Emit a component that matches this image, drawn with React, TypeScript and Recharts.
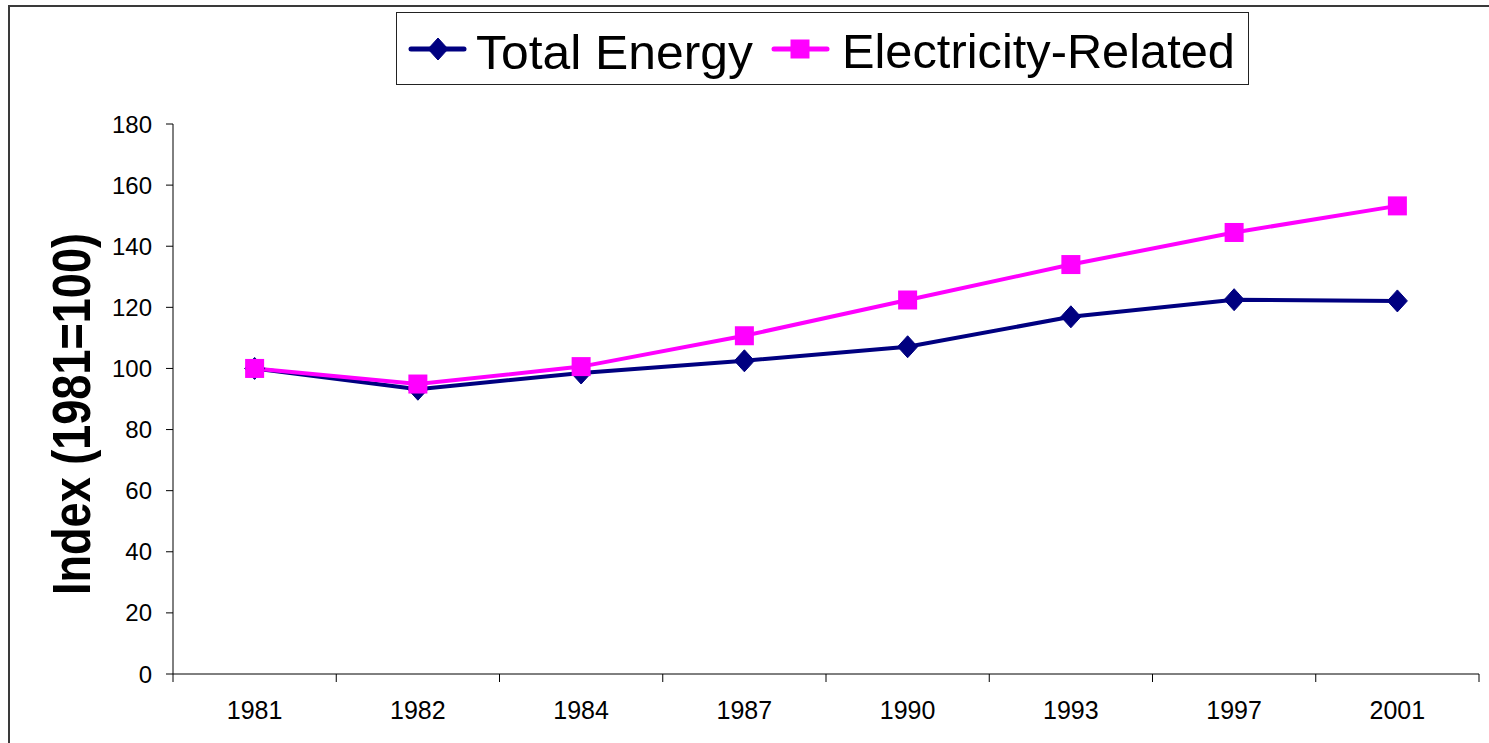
import React from "react";
import { LineChart, Line, XAxis, YAxis, Legend } from "recharts";

const years = ["1981", "1982", "1984", "1987", "1990", "1993", "1997", "2001"];
const totalEnergy = [100, 93.2, 98.5, 102.5, 107.1, 116.9, 122.5, 122.1];
const electricity = [100, 94.9, 100.6, 110.7, 122.4, 134, 144.5, 153.2];
const yTicks = [0, 20, 40, 60, 80, 100, 120, 140, 160, 180];

const NAVY = "#000080";
const PINK = "#FF00FF";
const FONT = "'Liberation Sans', Arial, sans-serif";

const data = years.map((year, i) => ({
  x: i + 0.5,
  year,
  total: totalEnergy[i],
  elec: electricity[i],
}));

// tick marks on category boundaries, labels in the middle of each category
const xTicks: number[] = [];
for (let i = 0; i <= years.length * 2; i++) xTicks.push(i / 2);

function XTick(props: any) {
  const { x, y, payload } = props;
  const v = payload.value;
  if (Number.isInteger(v)) {
    return <line x1={x} x2={x} y1={y - 8} y2={y} stroke="#000" strokeWidth={1} />;
  }
  return (
    <text x={x} y={y + 37} textAnchor="middle" fontSize={25} fontFamily={FONT} fill="#000">
      {years[Math.floor(v)]}
    </text>
  );
}

function Diamond({ cx, cy, w = 10, h = 11 }: { cx: number; cy: number; w?: number; h?: number }) {
  return (
    <polygon
      points={`${cx - w},${cy} ${cx},${cy - h} ${cx + w},${cy} ${cx},${cy + h}`}
      fill={NAVY}
      stroke={NAVY}
    />
  );
}

function Square({ cx, cy, s = 9.5 }: { cx: number; cy: number; s?: number }) {
  return <rect x={cx - s} y={cy - s} width={s * 2} height={s * 2} fill={PINK} stroke="none" />;
}

function LegendBox() {
  return (
    <div
      style={{
        width: 853,
        height: 73,
        border: "1.5px solid #222",
        boxSizing: "border-box",
        background: "#fff",
      }}
    >
      <svg width={850} height={70} style={{ display: "block", overflow: "visible" }}>
        <line x1={14} x2={67} y1={36} y2={36} stroke={NAVY} strokeWidth={5} strokeLinecap="round" />
        <Diamond cx={41} cy={36} />
        <text x={79} y={56} fontSize={49} fontFamily={FONT} fill="#000" textLength={277} lengthAdjust="spacingAndGlyphs">
          Total Energy
        </text>
        <line x1={377} x2={430} y1={36} y2={36} stroke={PINK} strokeWidth={5} strokeLinecap="round" />
        <Square cx={403} cy={36} />
        <text x={445} y={55} fontSize={49} fontFamily={FONT} fill="#000" textLength={393} lengthAdjust="spacingAndGlyphs">
          Electricity-Related
        </text>
      </svg>
    </div>
  );
}

function YLabel(props: any) {
  const { viewBox } = props;
  const x = viewBox.x - 3;
  const y = viewBox.y + viewBox.height / 2 + 15;
  return (
    <text
      x={x}
      y={y}
      transform={`rotate(-90, ${x}, ${y})`}
      textAnchor="middle"
      fontSize={54}
      fontWeight="bold"
      fontFamily={FONT}
      fill="#000"
      textLength={362}
      lengthAdjust="spacingAndGlyphs"
    >
      Index (1981=100)
    </text>
  );
}

export default function App() {
  return (
    <div style={{ position: "absolute", left: 0, top: 0, width: 1489, height: 743, overflow: "hidden", background: "#fff" }}>
      <div
        style={{
          position: "absolute",
          left: 8,
          top: 5,
          width: 1520,
          height: 780,
          border: "2px solid #3a3a3a",
          boxSizing: "border-box",
        }}
      />
      <div style={{ position: "absolute", left: 0, top: 0 }}>
        <LineChart width={1489} height={743} data={data} margin={{ top: 124, right: 10, left: 93, bottom: 19 }}>
          <XAxis
            dataKey="x"
            type="number"
            domain={[0, years.length]}
            ticks={xTicks}
            interval={0}
            tick={<XTick />}
            tickLine={false}
            tickSize={8}
            tickMargin={0}
            height={50}
            axisLine={{ stroke: "#000", strokeWidth: 1 }}
          />
          <YAxis
            domain={[0, 180]}
            ticks={yTicks}
            interval={0}
            width={80}
            tickSize={7}
            tickMargin={14}
            tick={{ fontSize: 24, fill: "#000", fontFamily: FONT }}
            tickLine={{ stroke: "#000" }}
            axisLine={{ stroke: "#000", strokeWidth: 1 }}
            label={<YLabel />}
          />
          <Legend
            layout="horizontal"
            verticalAlign="middle"
            align="center"
            content={() => <LegendBox />}
            wrapperStyle={{ left: 396, top: 12, width: 853, height: 73 }}
          />
          <Line
            type="linear"
            dataKey="total"
            stroke={NAVY}
            strokeWidth={4}
            isAnimationActive={false}
            dot={(p: any) => <Diamond key={`d-${p.index}`} cx={p.cx} cy={p.cy} />}
            activeDot={false}
          />
          <Line
            type="linear"
            dataKey="elec"
            stroke={PINK}
            strokeWidth={4}
            isAnimationActive={false}
            dot={(p: any) => <Square key={`s-${p.index}`} cx={p.cx} cy={p.cy} />}
            activeDot={false}
          />
        </LineChart>
      </div>
    </div>
  );
}
